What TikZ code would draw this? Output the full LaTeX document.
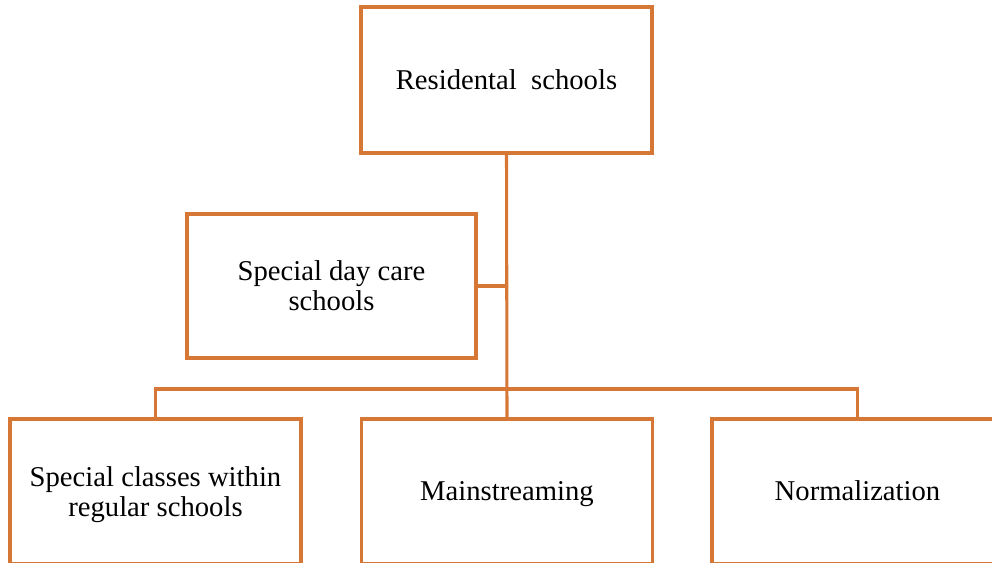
\documentclass[tikz,border=0pt]{standalone}
\usepackage{fontspec}
\setmainfont{Liberation Serif}
\definecolor{boxorange}{RGB}{214,119,54}
\begin{document}
\begin{tikzpicture}[x=0.75pt,y=0.75pt,
  box/.style={draw=boxorange,line width=2.3pt,fill=white,align=center,
    inner sep=0pt,font=\fontsize{21.5}{22.5}\selectfont,
    minimum width=218.25pt,minimum height=108.75pt},
  oneline/.style={text height=17pt,text depth=3pt},
  twoline/.style={text depth=0pt},
  conn/.style={draw=boxorange,line width=2.3pt}]
\useasboundingbox (0,0) rectangle (992,-563);
\node[box,oneline,minimum height=109.5pt] (top) at (506.5,-80) {Residental\ \ schools};
\node[box,twoline,minimum width=216.75pt,minimum height=108pt] (day) at (331.5,-286) {Special day care\\schools};
\node[box,twoline] (lft) at (155.5,-491.5) {Special classes within\\regular schools};
\node[box,oneline] (mid) at (507,-491.5) {Mainstreaming};
\node[box,oneline] (rgt) at (857.5,-491.5) {Normalization};
\coordinate (bus) at (507,-389);
\draw[conn] (top.south) -- (mid.north);
\draw[conn] (lft.north) |- (bus) -| (rgt.north);
\draw[conn] (day.east) -- (day.east -| top.south);
\end{tikzpicture}
\end{document}
